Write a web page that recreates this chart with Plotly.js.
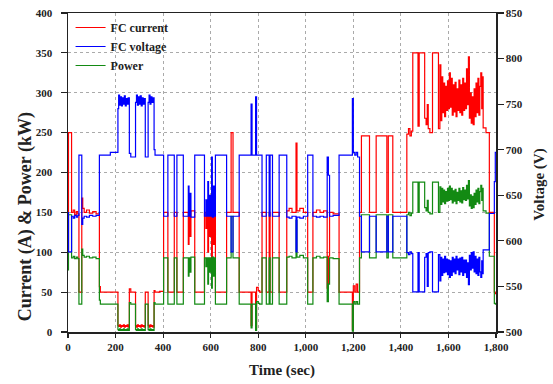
<!DOCTYPE html>
<html>
<head>
<meta charset="utf-8">
<script src="https://cdn.plot.ly/plotly-3.0.1.min.js"></script>
<style>html,body{margin:0;padding:0;background:#fff;}#chart{width:553px;height:384px;}</style>
</head>
<body>
<div id="chart"></div>
<script>
// Segment start times (sec); each value holds until the next time (step plot)
const time = [
  0,2,15,22,28,35,41,46,58,62,
  68,78,90,104,118,132,136,178,210,213,
  217,221,225,229,233,237,241,245,249,253,
  258,264,284,288,292,296,300,304,308,312,
  316,320,325,337,341,345,349,353,357,362,
  366,385,402,420,447,458,485,506,509,514,
  517,533,574,580,583,588,591,596,600,604,
  607,612,615,620,667,686,694,720,770,774,
  789,793,800,806,816,834,846,850,860,888,
  920,930,942,959,963,975,990,1008,1030,1045,
  1060,1075,1090,1095,1100,1115,1140,1196,1200,1206,
  1212,1218,1226,1234,1268,1296,1341,1347,1366,1425,
  1432,1438,1444,1450,1472,1477,1500,1506,1511,1515,
  1522,1533,1558,
  1564,1568,1572,1576,1580,1584,1588,1592,1596,1600,
  1604,1608,1612,1616,1620,1624,1628,1632,1636,1640,
  1644,1648,1652,1656,1660,1664,1668,1672,1676,1680,
  1684,1688,1692,1696,1700,1704,1708,1712,1716,1720,
  1724,1728,1732,1736,1740,1744,
  1746,1758,1772,1793,1797,1800
];
// FC current (A)
const fcCurrent = [
  100,250,150,153,147,151,148,50,168,155,
  150,153,149,151,148,57,50,50,8,7,
  9,6,8,7,9,6,8,7,9,6,
  54,50,8,6,9,7,8,6,9,7,
  8,6,50,8,6,9,7,8,6,52,
  50,51,150,50,150,50,150,110,150,120,
  152,50,150,130,150,100,150,120,150,90,
  152,110,150,50,150,250,150,50,8,50,
  5,56,52,50,150,50,150,50,150,50,
  152,155,150,237,152,155,150,50,150,153,
  150,152,55,95,150,148,50,3,58,50,
  60,50,150,246,150,246,150,246,150,248,
  255,246,252,350,258,350,268,260,285,255,
  250,350,255,
  335,265,320,275,312,270,308,278,315,280,
  325,282,318,272,310,276,313,270,305,278,
  316,275,310,272,318,278,312,280,330,285,
  345,268,300,262,295,260,305,270,312,275,
  318,272,308,325,280,320,
  256,250,150,50,48,48
];
// FC voltage (V)
const fcVoltage = [
  631,588,627,625,628,626,628,694,618,625,
  627,626,628,627,628,694,694,697,745,760,
  749,758,748,757,750,759,748,756,750,757,
  696,692,752,760,749,758,750,759,748,757,
  750,756,692,752,760,750,758,752,757,700,
  694,694,627,694,627,694,627,660,627,652,
  626,694,627,645,627,665,627,650,627,692,
  626,660,627,694,627,588,627,694,750,694,
  758,694,694,694,627,694,627,694,627,694,
  626,625,627,588,626,625,627,694,627,626,
  627,626,692,672,627,628,694,756,697,694,
  697,692,627,588,627,588,627,588,627,587,
  585,588,586,544,587,544,582,586,550,587,
  588,544,585,
  556,582,562,580,565,583,566,580,563,579,
  560,578,562,582,566,580,564,583,568,580,
  563,581,566,582,562,579,565,579,560,576,
  552,584,568,587,570,588,566,583,564,580,
  562,582,566,560,578,564,
  590,590,630,665,697,697
];
// Power (kW)
const power = [
  78,147,93,95,92,94,92,35,104,96,
  94,95,93,94,92,40,35,35,3,2,
  4,2,3,2,4,2,3,2,4,2,
  37,35,3,2,4,2,3,2,4,2,
  3,2,35,3,2,4,2,3,2,37,
  35,35,93,35,93,35,93,70,93,75,
  94,35,93,82,93,60,93,75,93,55,
  94,70,93,35,93,145,93,35,5,35,
  2,38,36,35,93,35,93,35,93,35,
  94,95,93,140,94,96,93,35,93,95,
  93,94,38,60,93,92,35,1,38,35,
  38,35,93,147,93,147,93,147,93,147,
  150,146,149,188,150,188,156,152,165,150,
  148,188,150,
  182,160,180,163,178,161,176,164,180,165,
  183,166,180,162,177,164,179,161,175,165,
  180,163,177,162,181,166,178,165,184,167,
  190,158,172,155,170,156,174,160,178,163,
  180,161,176,184,165,180,
  152,149,95,36,35,35
];
const seriesNames = ['FC current', 'FC voltage', 'Power'];
const xTicks = [0,200,400,600,800,1000,1200,1400,1600,1800];
const yLeftTicks = [0,50,100,150,200,250,300,350,400];
const yRightTicks = [500,550,600,650,700,750,800,850];

const FONT = 'Liberation Serif, Times New Roman, serif';
const tickFont = {family: FONT, size: 11, color: '#222', weight: 'bold'};

const traces = [
  {x: time, y: fcCurrent, name: seriesNames[0], type: 'scatter', mode: 'lines',
   line: {color: '#ff0000', width: 1.2, shape: 'hv'}, yaxis: 'y'},
  {x: time, y: fcVoltage, name: seriesNames[1], type: 'scatter', mode: 'lines',
   line: {color: '#0000ff', width: 1.2, shape: 'hv'}, yaxis: 'y2'},
  {x: time, y: power, name: seriesNames[2], type: 'scatter', mode: 'lines',
   line: {color: '#138a13', width: 1.2, shape: 'hv'}, yaxis: 'y'}
];

const axisCommon = {
  showline: true, linecolor: '#222', linewidth: 1.5,
  ticks: 'outside', ticklen: 6, tickcolor: '#222', tickwidth: 1.2,
  tickfont: tickFont, zeroline: false
};

const layout = {
  width: 553, height: 384,
  margin: {l: 68, r: 57, t: 13, b: 52, pad: 0},
  paper_bgcolor: '#fff', plot_bgcolor: '#fff',
  showlegend: true,
  legend: {x: 0.006, y: 1.0, xanchor: 'left', yanchor: 'top',
    bgcolor: 'rgba(0,0,0,0)', font: {family: FONT, size: 12, color: '#222', weight: 'bold'},
    tracegroupgap: 0, itemwidth: 30},
  xaxis: Object.assign({}, axisCommon, {
    range: [0, 1800], tickvals: xTicks, tickformat: ',d', mirror: true, ticklen: 4,
    showgrid: true, gridcolor: '#aaaaaa', griddash: 'dot', gridwidth: 1,
    title: {text: 'Time (sec)', font: {family: FONT, size: 15, color: '#222', weight: 'bold'}, standoff: 13}
  }),
  yaxis: Object.assign({}, axisCommon, {
    range: [0, 400], tickvals: yLeftTicks, mirror: true,
    showgrid: true, gridcolor: '#aaaaaa', griddash: 'dot', gridwidth: 1,
    ticklabelstandoff: 6
  }),
  yaxis2: Object.assign({}, axisCommon, {
    range: [500, 850], tickvals: yRightTicks, overlaying: 'y', side: 'right',
    showgrid: false
  }),
  annotations: [
    {text: 'Current (A) & Power (kW)', textangle: -90, xref: 'paper', yref: 'paper',
     x: -0.1, y: 0.36, xanchor: 'center', yanchor: 'middle', showarrow: false,
     font: {family: FONT, size: 18, color: '#222', weight: 'bold'}},
    {text: 'Voltage (V)', textangle: -90, xref: 'paper', yref: 'paper',
     x: 1.103, y: 0.462, xanchor: 'center', yanchor: 'middle', showarrow: false,
     font: {family: FONT, size: 15, color: '#222', weight: 'bold'}}
  ]
};

Plotly.newPlot('chart', traces, layout, {displayModeBar: false, staticPlot: true});
</script>
</body>
</html>
